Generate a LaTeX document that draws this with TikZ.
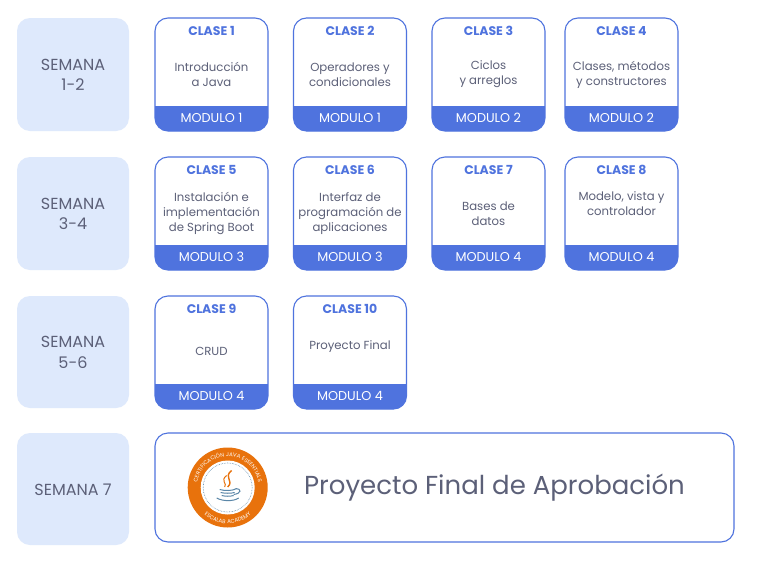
\documentclass[tikz,border=0pt]{standalone}
\usepackage{fontspec}
\setmainfont{Poppins}
\newfontfamily\badgefont[LetterSpace=9]{Poppins}
\usetikzlibrary{decorations.text}
\definecolor{cardblue}{HTML}{4F73DE}
\definecolor{weekfill}{HTML}{DEE9FC}
\definecolor{inktext}{HTML}{5C6078}
\definecolor{badge}{HTML}{E8720C}
\definecolor{javablue}{HTML}{5B87A8}
\newcommand{\fs}[2]{\fontsize{#1}{#2}\selectfont}
\tikzset{
  weekbox/.style={fill=weekfill,rounded corners=13pt},
  cardframe/.style={draw=cardblue,line width=1.1pt,rounded corners=13pt},
  weektext/.style={text=inktext,align=center,font={\fs{16}{20.5}}},
  bodytext/.style={text=inktext,align=center,font={\fs{11.7}{15}}},
  headtext/.style={text=cardblue,font={\fs{12.5}{14}\bfseries}},
  foottext/.style={text=white,font={\fs{12.8}{14}}},
}
% \card{name}{x}{y}{n}{module}{body centre y}{body}
\newcommand{\card}[7]{%
  \begin{scope}
    \clip[rounded corners=13pt] (#2,#3) rectangle ++(113,113);
    \fill[cardblue] (#2,#3+87.5) rectangle ++(113,26);
  \end{scope}
  \draw[cardframe] (#2,#3) rectangle ++(113,113);
  \node[headtext] (#1h) at (#2+56.5,#3+13) {CLASE #4};
  \node[foottext] (#1f) at (#2+56.5,#3+99.5) {MODULO #5};
  \node[bodytext] (#1b) at (#2+56.5,#6) {#7};
}
\begin{document}
\begin{tikzpicture}[x=1pt,y=-1pt]
\useasboundingbox (0,0) rectangle (766,560);
\fill[white] (0,0) rectangle (766,560);
\fill[weekbox] (17,18) rectangle (129,131);
\fill[weekbox] (17,157) rectangle (129,270);
\fill[weekbox] (17,296) rectangle (129,408);
\fill[weekbox] (17,433) rectangle (129,545);
\node[weektext] (w1) at (73,75) {SEMANA\\1-2};
\node[weektext] (w2) at (73,214) {SEMANA\\3-4};
\node[weektext] (w3) at (73,352.5) {SEMANA\\5-6};
\node[weektext] (w4) at (73,489.5) {SEMANA 7};
\card{c1}{155}{18}{1}{1}{74.5}{Introducción\\a Java}
\card{c2}{293.5}{18}{2}{1}{74.5}{Operadores y\\condicionales}
\card{c3}{432}{18}{3}{2}{74.5}{Ciclos\\y arreglos}
\card{c4}{565}{18}{4}{2}{74.5}{Clases, métodos\\y constructores}
\card{c5}{155}{157}{5}{3}{213.5}{Instalación e\\implementación\\de Spring Boot}
\card{c6}{293.5}{157}{6}{3}{213.5}{Interfaz de\\programación de\\aplicaciones}
\card{c7}{432}{157}{7}{4}{213.5}{Bases de\\datos}
\card{c8}{565}{157}{8}{4}{203.5}{Modelo, vista  y\\controlador}
\card{c9}{155}{296}{9}{4}{351}{CRUD}
\card{c10}{293.5}{296}{10}{4}{346.5}{Proyecto Final}
\draw[cardframe] (155,433) rectangle (734,542);
\node[text=inktext,font={\fs{26}{30}}] (final) at (494.5,488) {Proyecto Final de Aprobación};
\begin{scope}[shift={(227.7,487.5)},y=1pt]
  \fill[badge] (0,0) circle (40);
  \fill[white] (0,0) circle (27);
  \draw[javablue,line width=.6pt,densely dotted] (0,0) circle (24.5);
  \path[postaction={decorate},decoration={text along path,text align=center,
    text={|\badgefont\fs{5.4}{6}\color{white}|CERTIFICACIÓN JAVA ESSENTIALS}}]
    (-31,0) arc[start angle=180,end angle=0,radius=31];
  \path[postaction={decorate},decoration={text along path,text align=center,
    text={|\badgefont\fs{5.4}{6}\color{white}|ESCALAB ACADEMY}}]
    (-36,0) arc[start angle=180,end angle=360,radius=36];
  \draw[badge,line width=1.4pt] (4,17) .. controls (-5,10) and (7,7) .. (0,0.5);
  \draw[badge,line width=1pt] (-1,12) .. controls (-8,7) and (0,4) .. (-3,0.5);
  \draw[javablue,line width=1pt] (-8,-2) .. controls (-3,-3.5) and (5,-3.5) .. (9,-1);
  \draw[javablue,line width=1pt] (-7,-5) .. controls (-3,-6) and (3,-6) .. (7,-5);
  \draw[javablue,line width=1pt] (-6,-8) .. controls (-2,-9) and (2,-9) .. (6,-8);
  \draw[javablue,line width=1pt] (8,-1) .. controls (14,-1) and (14,-6) .. (6,-7);
  \draw[javablue,line width=1pt] (-11,-10.5) .. controls (-5,-14) and (6,-14) .. (11,-10.5);
\end{scope}
\end{tikzpicture}
\end{document}
